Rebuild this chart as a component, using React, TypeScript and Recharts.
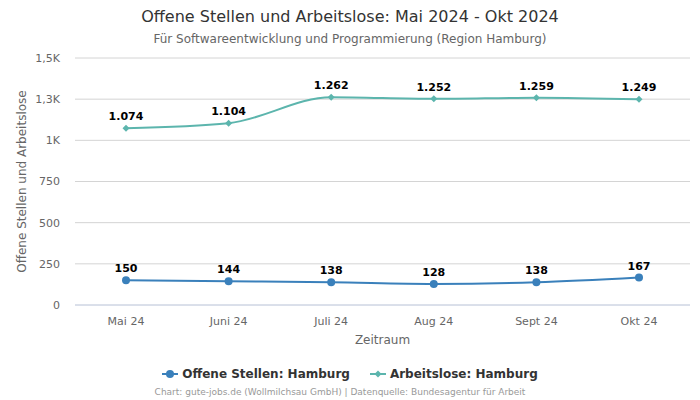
import React from 'react';
import { LineChart, Line, XAxis, YAxis, CartesianGrid, LabelList } from 'recharts';

const months = ['Mai 24', 'Juni 24', 'Juli 24', 'Aug 24', 'Sept 24', 'Okt 24'];
const offeneStellen = [150, 144, 138, 128, 138, 167];
const arbeitslose = [1074, 1104, 1262, 1252, 1259, 1249];
const yTicks = [0, 250, 500, 750, 1000, 1250, 1500];
const yTickLabels = ['0', '250', '500', '750', '1K', '1,3K', '1,5K'];

const BLUE = '#3a80bb';
const TEAL = '#5cb5ad';
const FONT = '"DejaVu Sans", Verdana, Arial, sans-serif';

const data = months.map((m, i) => ({ month: m, offen: offeneStellen[i], arbeitslos: arbeitslose[i] }));

const fmt = (v: number) => v.toLocaleString('de-DE');

const Diamond = (props: any) => {
  const { cx, cy } = props;
  if (cx == null || cy == null) return null;
  const r = 3.5;
  return <path d={`M${cx},${cy - r}L${cx + r},${cy}L${cx},${cy + r}L${cx - r},${cy}Z`} fill={TEAL} />;
};

export default function App() {
  return (
    <div style={{ position: 'absolute', left: 0, top: 0, width: 700, height: 400, fontFamily: FONT, background: '#fff' }}>
      <div style={{ position: 'absolute', top: 7, width: 700, textAlign: 'center', fontSize: 16, color: '#333' }}>
        Offene Stellen und Arbeitslose: Mai 2024 - Okt 2024
      </div>
      <div style={{ position: 'absolute', top: 32, width: 700, textAlign: 'center', fontSize: 12, color: '#666' }}>
        Für Softwareentwicklung und Programmierung (Region Hamburg)
      </div>
      <div style={{ position: 'absolute', left: 0, top: 0 }}>
        <LineChart width={700} height={400} data={data} margin={{ top: 58, right: 10, left: 0, bottom: 45 }}>
          <CartesianGrid vertical={false} stroke="#d4d4d4" />
          <XAxis
            dataKey="month"
            height={50}
            padding={{ left: 51, right: 51 }}
            tickLine={false}
            axisLine={{ stroke: '#ccd6eb' }}
            tick={{ fontSize: 11, fill: '#666', fontFamily: FONT }}
            tickMargin={6}
            label={{ value: 'Zeitraum', position: 'insideBottom', offset: 11, fontSize: 12, fill: '#666', fontFamily: FONT }}
          />
          <YAxis
            width={75}
            domain={[0, 1500]}
            ticks={yTicks}
            interval={0}
            tickLine={false}
            axisLine={false}
            tickFormatter={(v: number) => yTickLabels[yTicks.indexOf(v)]}
            tick={{ fontSize: 11, fill: '#666', fontFamily: FONT }}
            tickMargin={9}
            label={{ value: 'Offene Stellen und Arbeitslose', angle: -90, position: 'insideLeft', offset: 22, style: { textAnchor: 'middle' }, fontSize: 12, fill: '#666', fontFamily: FONT }}
          />
          <Line type="monotone" dataKey="offen" stroke={BLUE} strokeWidth={2} isAnimationActive={false}
            dot={{ r: 4, fill: BLUE, stroke: BLUE, strokeWidth: 0 }} activeDot={false}>
            <LabelList dataKey="offen" position="top" offset={8} formatter={(v: any) => fmt(v)}
              style={{ fontSize: 11, fontWeight: 'bold', fill: '#000', fontFamily: FONT }} />
          </Line>
          <Line type="monotone" dataKey="arbeitslos" stroke={TEAL} strokeWidth={2} isAnimationActive={false}
            dot={<Diamond />} activeDot={false}>
            <LabelList dataKey="arbeitslos" position="top" offset={8} formatter={(v: any) => fmt(v)}
              style={{ fontSize: 11, fontWeight: 'bold', fill: '#000', fontFamily: FONT }} />
          </Line>
        </LineChart>
      </div>
      <div style={{ position: 'absolute', top: 367, width: 700, display: 'flex', justifyContent: 'center', gap: 20, fontSize: 12, fontWeight: 'bold', color: '#333' }}>
        <span style={{ display: 'flex', alignItems: 'center' }}>
          <svg width={16} height={10} style={{ marginRight: 4 }}>
            <line x1={0} y1={5} x2={16} y2={5} stroke={BLUE} strokeWidth={2} />
            <circle cx={8} cy={5} r={4} fill={BLUE} />
          </svg>
          Offene Stellen: Hamburg
        </span>
        <span style={{ display: 'flex', alignItems: 'center' }}>
          <svg width={16} height={10} style={{ marginRight: 4 }}>
            <line x1={0} y1={5} x2={16} y2={5} stroke={TEAL} strokeWidth={2} />
            <path d="M8,1.5L11.5,5L8,8.5L4.5,5Z" fill={TEAL} />
          </svg>
          Arbeitslose: Hamburg
        </span>
      </div>
      <div style={{ position: 'absolute', top: 387, left: -20, width: 720, textAlign: 'center', fontSize: 9, color: '#999' }}>
        Chart: gute-jobs.de (Wollmilchsau GmbH) | Datenquelle: Bundesagentur für Arbeit
      </div>
    </div>
  );
}
